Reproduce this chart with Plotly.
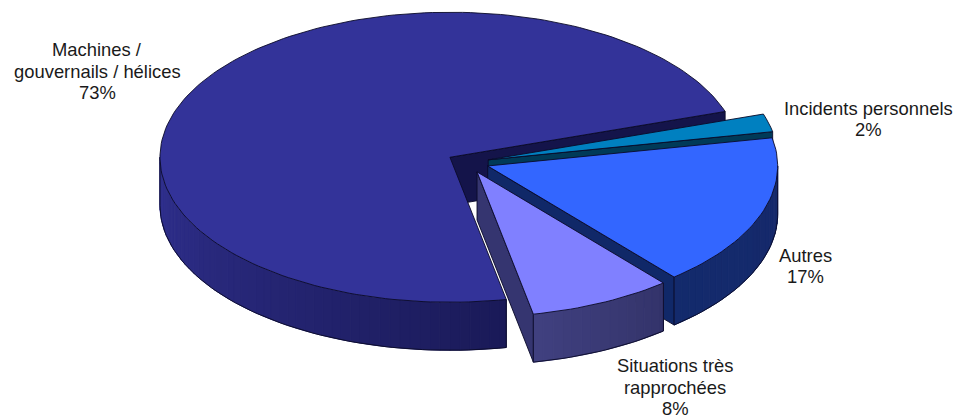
import numpy as np
import plotly.graph_objects as go

# ---- data ----
categories = ["Machines /<br>gouvernails / hélices", "Situations très<br>rapprochées", "Autres", "Incidents personnels"]
shares = [73, 8, 17, 2]

# ---- pie geometry (plot units = pixels) ----
CX, CY = 468, 162.5
RX, RY = 290, 145
DEPTH = 48
EXPLODE = 0.072
START = 18.4

top_colors = ["#333399", "#8080FF", "#3366FF", "#0080C0"]
wall_from = ["#30308F", "#40407F", "#132A6C", "#004060"]
wall_to = ["#1A1A58", "#33336A", "#16296B", "#004060"]
cut_colors = ["#14144A", "#353570", "#102868", "#003A58"]
OUTLINE = "#0A0A28"
label_pos = [(97, 71), (675, 387), (805, 266), (868, 119)]
LINE_GAP = 21.5


def hex_rgb(c):
    return np.array([int(c[i:i + 2], 16) for i in (1, 3, 5)], float)


def mix(a, b, t):
    r = hex_rgb(a) * (1 - t) + hex_rgb(b) * t
    return "rgb(%d,%d,%d)" % tuple(r.round())


def rim(c, a0, a1, n=None, dz=0):
    n = n or max(2, int(abs(a1 - a0) / 1.5) + 1)
    t = np.radians(np.linspace(a0, a1, n))
    return c[0] + RX * np.cos(t), c[1] - RY * np.sin(t) + dz


def poly(xs, ys, fill, line=None, width=1):
    fig.add_trace(go.Scatter(
        x=np.append(xs, xs[0]), y=np.append(ys, ys[0]), mode="lines", fill="toself",
        fillcolor=fill, line=dict(color=line or fill, width=width), hoverinfo="skip", showlegend=False))


def stroke(xs, ys):
    fig.add_trace(go.Scatter(x=xs, y=ys, mode="lines", line=dict(color=OUTLINE, width=0.9),
                             hoverinfo="skip", showlegend=False))


fig = go.Figure()

sweeps = np.array(shares) / sum(shares) * 360
starts = START + np.concatenate([[0], np.cumsum(sweeps)[:-1]])
slices = []
for i, (s, w) in enumerate(zip(starts, sweeps)):
    mid = np.radians(s + w / 2)
    c = (CX + EXPLODE * RX * np.cos(mid), CY - EXPLODE * RY * np.sin(mid))
    slices.append((i, s, s + w, c))

# back to front: main, incidents, autres, situations
for i, a0, a1, c in [slices[0], slices[3], slices[2], slices[1]]:
    # straight cut face at the start of the sweep, the one turned to the viewer
    ex, ey = rim(c, a0, a0, 2)
    cx_ = [c[0], ex[0], ex[0], c[0]]
    cy_ = [c[1], ey[0], ey[0] + DEPTH, c[1] + DEPTH]
    poly(np.array(cx_), np.array(cy_), cut_colors[i], OUTLINE, 0.9)

    # outer wall: only the part turned to the viewer (sin < 0)
    lo, hi = None, None
    for k in (0, 360):
        l, h = max(a0, 180 + k), min(a1, 360 + k)
        if l < h:
            lo, hi = l, h
    if lo is not None:
        steps = np.arange(lo, hi, 2.0)
        steps = np.append(steps, hi)
        for j in range(len(steps) - 1):
            x0, y0 = rim(c, steps[j], steps[j + 1], 2)
            col = mix(wall_from[i], wall_to[i], j / max(1, len(steps) - 2))
            poly(np.concatenate([x0, x0[::-1]]), np.concatenate([y0, y0[::-1] + DEPTH]), col)
        bx, by = rim(c, lo, hi, dz=DEPTH)
        stroke(bx, by)
        tx, ty = rim(c, hi, hi, 2)
        stroke([tx[0], tx[0]], [ty[0], ty[0] + DEPTH])
        tx, ty = rim(c, lo, lo, 2)
        stroke([tx[0], tx[0]], [ty[0], ty[0] + DEPTH])

    # top face
    tx, ty = rim(c, a0, a1)
    poly(np.concatenate([[c[0]], tx]), np.concatenate([[c[1]], ty]), top_colors[i], OUTLINE, 0.9)

for name, share, (lx, ly) in zip(categories, shares, label_pos):
    lines = name.split("<br>") + [f"{share}%"]
    for k, text in enumerate(lines):
        fig.add_annotation(x=lx, y=ly + (k - (len(lines) - 1) / 2) * LINE_GAP, text=text, showarrow=False,
                           font=dict(family="Liberation Sans", size=18.4, color="#1A1A1A"))

fig.update_xaxes(range=[0, 956], visible=False, fixedrange=True)
fig.update_yaxes(range=[417, 0], visible=False, fixedrange=True)
fig.update_layout(width=956, height=417, margin=dict(l=0, r=0, t=0, b=0),
                  paper_bgcolor="white", plot_bgcolor="white", showlegend=False)
fig.write_html("out.html", config={"displayModeBar": False},
               post_script="document.body.style.margin='0';")
